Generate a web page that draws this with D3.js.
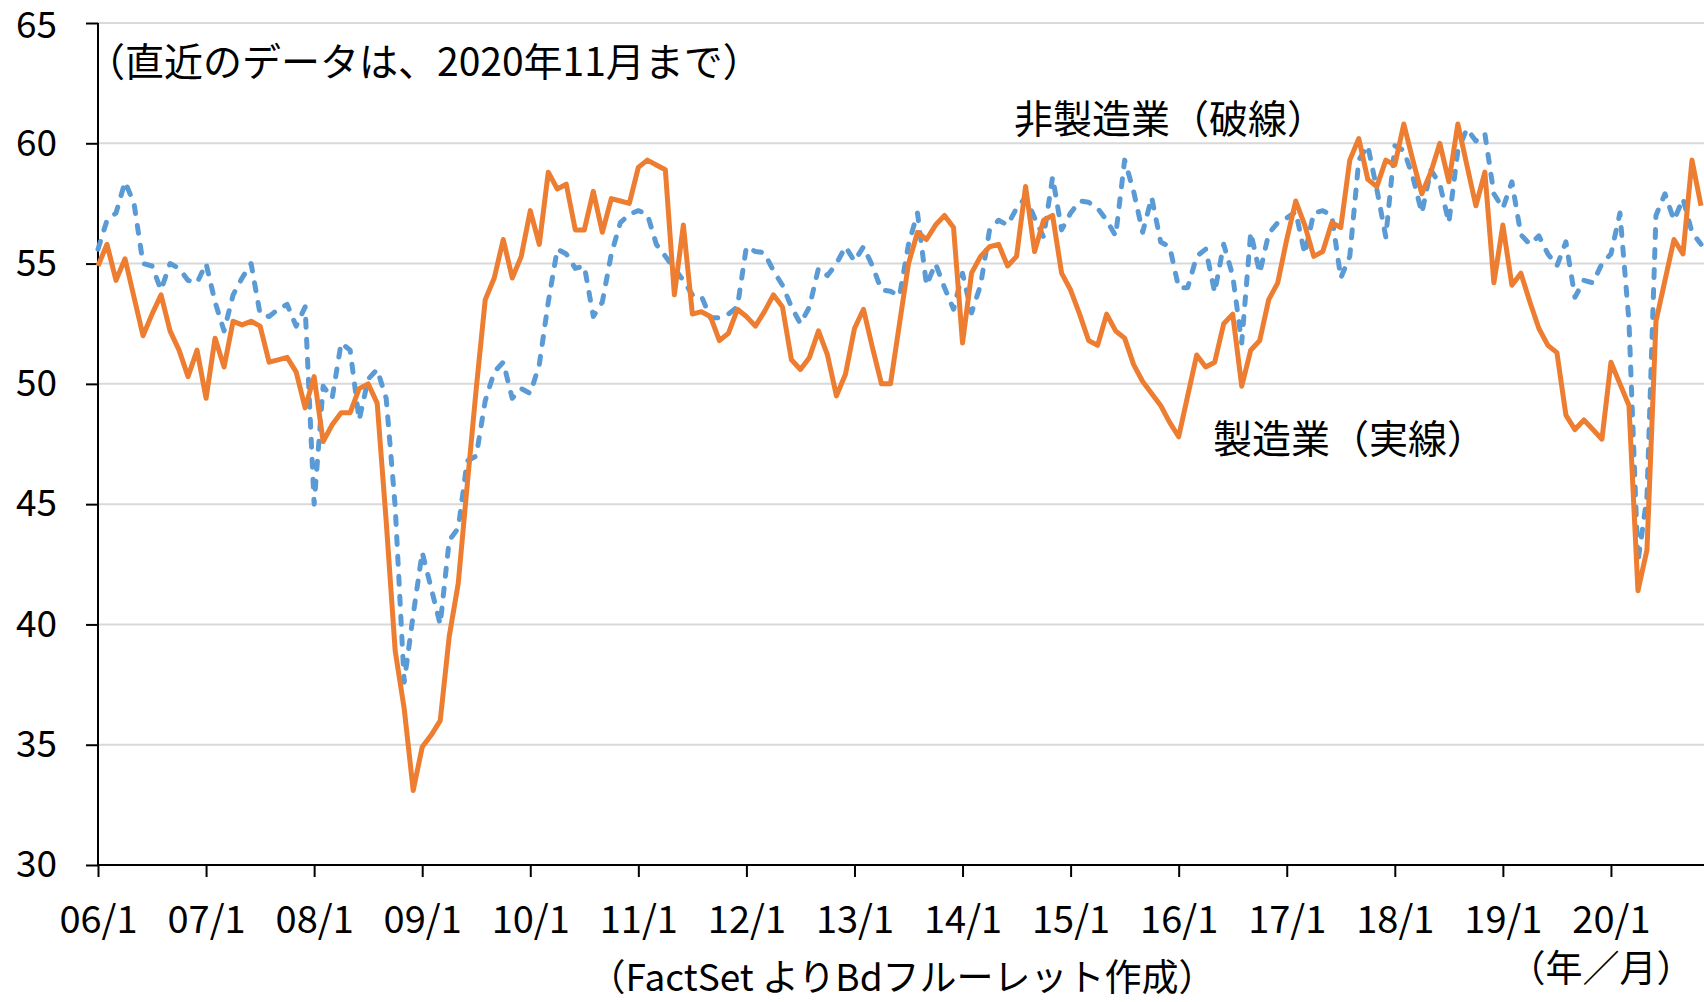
<!DOCTYPE html>
<html><head><meta charset="utf-8">
<script src="https://cdn.jsdelivr.net/npm/d3@7"></script>
<style>
html,body{margin:0;padding:0;background:#fff;}
svg text{font-family:"Noto Sans CJK JP","Noto Sans",sans-serif;fill:#000;}
</style></head>
<body>
<script>
// ISM PMI, 2006/1 - 2020/11 (monthly)
const xTickLabels = ["06/1","07/1","08/1","09/1","10/1","11/1","12/1","13/1","14/1","15/1","16/1","17/1","18/1","19/1","20/1"];
const yTicks = [30,35,40,45,50,55,60,65];
const manufacturing = [
54.9,55.8,54.3,55.2,53.6,52.0,52.9,53.7,52.2,51.4,50.3,51.4,
49.4,51.9,50.7,52.6,52.45,52.6,52.4,50.9,51.0,51.1,50.5,49.0,
50.3,47.6,48.3,48.8,48.8,49.8,50.0,49.2,44.3,38.9,36.5,33.1,
34.9,35.4,36.0,39.5,41.7,45.8,49.8,53.5,54.4,56.0,54.4,55.3,
57.2,55.8,58.8,58.1,58.3,56.4,56.4,58.0,56.3,57.7,57.6,57.5,
59.0,59.3,59.1,58.9,53.7,56.6,52.9,53.0,52.8,51.8,52.1,53.1,
52.8,52.4,53.0,53.7,53.2,51.0,50.6,51.1,52.2,51.2,49.5,50.4,
52.3,53.1,51.5,50.0,50.0,52.5,55.0,56.3,56.0,56.6,57.0,56.5,
51.7,54.6,55.3,55.7,55.8,54.9,55.3,58.2,55.5,56.8,57.0,54.6,
53.9,52.9,51.8,51.6,52.9,52.2,51.9,50.8,50.1,49.6,49.1,48.4,
47.8,49.5,51.2,50.7,50.9,52.5,52.9,49.9,51.4,51.8,53.5,54.2,
56.0,57.6,56.6,55.3,55.5,56.7,56.5,59.3,60.2,58.5,58.2,59.3,
59.1,60.8,59.3,57.9,58.8,60.0,58.4,60.8,59.1,57.4,58.8,54.2,
56.6,54.1,54.6,53.4,52.3,51.6,51.3,48.7,48.1,48.5,48.1,47.7,
50.9,50.0,49.1,41.4,43.1,52.6,54.3,56.0,55.4,59.3,57.4];
const nonManufacturing = [
55.6,56.8,57.1,58.4,57.5,55.0,54.9,53.9,55.0,54.8,54.3,54.2,
55.0,53.4,52.2,53.7,54.4,55.0,52.9,52.8,53.1,53.3,52.4,53.2,
45.0,49.9,49.4,51.7,51.4,48.5,50.2,50.6,49.4,44.9,37.6,40.4,
43.0,41.5,40.0,43.5,44.0,46.8,47.0,49.3,50.5,50.9,49.4,49.8,
49.6,50.8,53.4,55.6,55.4,54.8,54.9,52.8,53.4,55.4,56.7,57.05,
57.2,57.05,55.8,55.3,54.8,54.3,53.7,53.65,52.75,52.75,52.9,53.2,
55.7,55.5,55.45,54.7,54.1,53.2,52.5,53.2,54.8,54.5,55.0,55.7,
55.1,55.7,54.9,53.9,53.85,53.65,55.8,57.1,54.1,55.0,54.0,53.1,
54.6,52.95,54.1,56.4,56.8,56.6,57.3,57.75,56.9,56.1,58.6,56.4,
57.1,57.6,57.55,57.3,56.8,56.15,59.3,58.0,56.3,57.75,55.9,55.7,
54.0,54.0,55.3,55.6,53.8,55.8,54.5,51.7,56.3,54.6,56.25,56.7,
56.9,57.15,55.4,57.1,57.2,57.0,54.4,55.3,59.3,59.9,58.1,56.1,
59.9,59.7,58.6,57.1,58.9,58.3,56.7,59.7,60.6,60.1,60.4,57.9,
57.3,58.4,56.2,55.8,56.15,55.4,54.9,55.9,53.6,54.3,54.2,55.0,
55.4,57.1,52.6,42.6,45.3,57.0,57.9,56.8,57.7,56.3,55.8];
const labelNote = "（直近のデータは、2020年11月まで）";
const labelNonMfg = "非製造業（破線）";
const labelMfg = "製造業（実線）";
const labelSource = "（FactSet よりBdフルーレット作成）";
const labelUnit = "（年／月）";

const W = 1704, H = 1002;
const svg = d3.select("body").append("svg").attr("width", W).attr("height", H);

const x = d3.scaleLinear().domain([0, manufacturing.length - 1]).range([98, 1701]);
const y = d3.scaleLinear().domain([30, 65]).range([865, 23]);

// gridlines
svg.append("g").selectAll("line").data(yTicks.filter(d => d > 30)).join("line")
  .attr("x1", 98).attr("x2", W).attr("y1", d => y(d)).attr("y2", d => y(d))
  .attr("stroke", "#d9d9d9").attr("stroke-width", 2);

// y axis
const yAxis = svg.append("g").attr("transform", "translate(98,0)")
  .call(d3.axisLeft(y).tickValues(yTicks).tickSize(12).tickPadding(29).tickFormat(d3.format("d")));
yAxis.select(".domain").remove();
yAxis.selectAll(".tick line").attr("stroke", "#000").attr("stroke-width", 2);
yAxis.selectAll(".tick text").attr("font-size", 37).attr("fill", "#000")
  .style("font-family", '"Noto Sans CJK JP",sans-serif')
  .attr("dy", d => d === 65 ? "0.4em" : "0.32em");
svg.append("line").attr("x1", 98).attr("x2", 98).attr("y1", y(65)).attr("y2", y(30))
  .attr("stroke", "#000").attr("stroke-width", 2);

// x axis
const xTickVals = xTickLabels.map((d, i) => i * 12);
const xAxis = svg.append("g").attr("transform", `translate(0,${y(30)})`)
  .call(d3.axisBottom(x).tickValues(xTickVals).tickSize(12).tickPadding(29)
    .tickFormat((d, i) => xTickLabels[i]));
xAxis.select(".domain").remove();
xAxis.selectAll(".tick line").attr("stroke", "#000").attr("stroke-width", 2);
xAxis.selectAll(".tick text").attr("font-size", 38).attr("fill", "#000")
  .style("font-family", '"Noto Sans CJK JP",sans-serif');
svg.append("line").attr("x1", 97).attr("x2", W).attr("y1", y(30)).attr("y2", y(30))
  .attr("stroke", "#000").attr("stroke-width", 2);

const line = d3.line().x((d, i) => x(i)).y(d => y(d));

svg.append("path").datum(nonManufacturing).attr("d", line)
  .attr("fill", "none").attr("stroke", "#5B9BD5").attr("stroke-width", 5)
  .attr("stroke-dasharray", "8,12").attr("stroke-linecap", "round").attr("stroke-linejoin", "round");
svg.append("path").datum(manufacturing).attr("d", line)
  .attr("fill", "none").attr("stroke", "#ED7D31").attr("stroke-width", 5)
  .attr("stroke-linejoin", "round");

function addText(t, xx, yy, anchor, size) {
  svg.append("text").attr("x", xx).attr("y", yy).attr("text-anchor", anchor)
    .attr("dominant-baseline", "central").attr("font-size", size).text(t);
}
addText(labelNote, 86, 59, "start", 39);
addText(labelNonMfg, 1014, 116, "start", 39);
addText(labelMfg, 1213, 436, "start", 39);
addText(labelSource, 902, 975, "middle", 37);
addText(labelUnit, 1601, 966, "middle", 37);
</script>
</body></html>
